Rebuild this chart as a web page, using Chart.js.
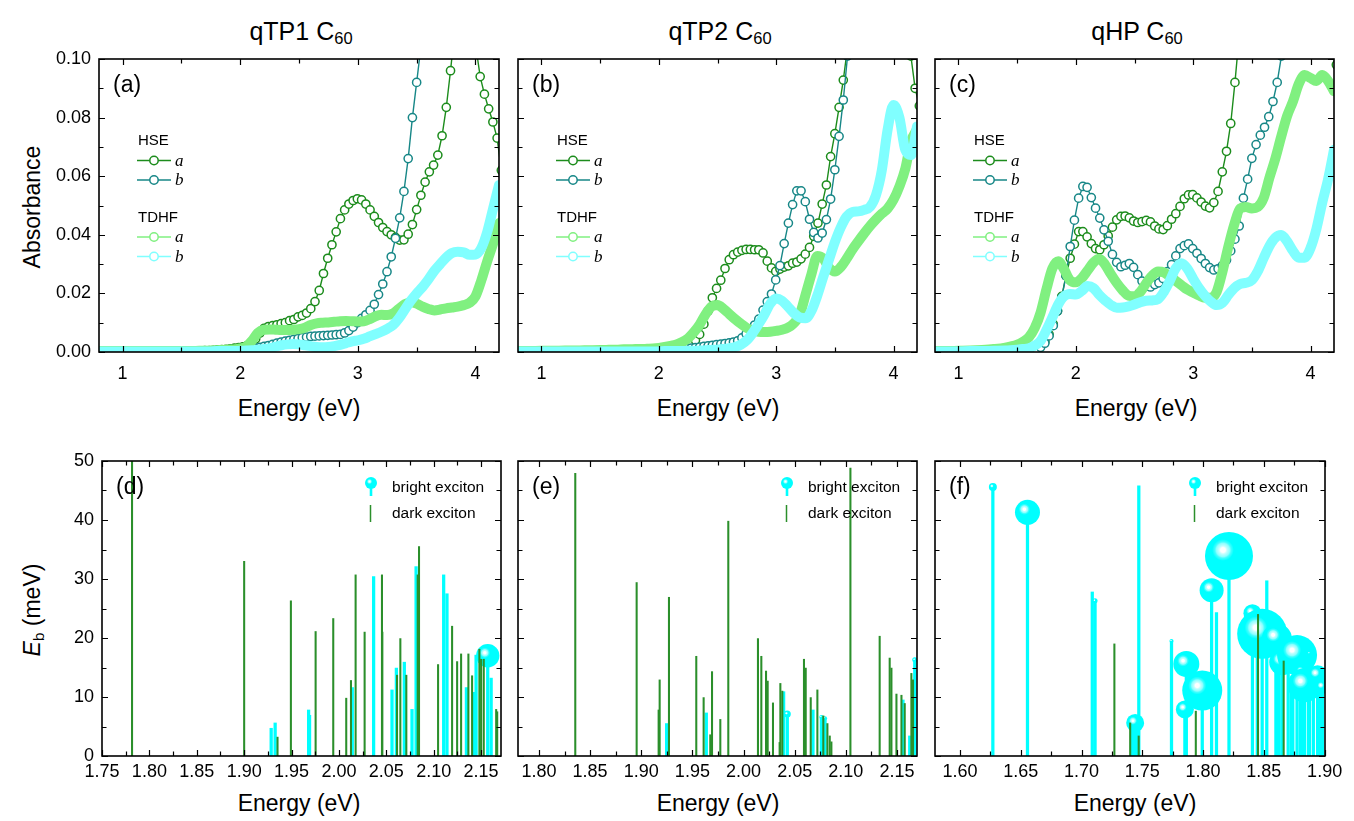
<!DOCTYPE html>
<html>
<head>
<meta charset="utf-8">
<script src="https://cdn.jsdelivr.net/npm/chart.js@4.4.1/dist/chart.umd.min.js"></script>
<style>
  body { margin: 0; background: #fff; width: 1354px; height: 821px; position: relative; overflow: hidden;
         font-family: "Liberation Sans", Arial, Helvetica, sans-serif; }
  canvas { position: absolute; }
  .t { position: absolute; white-space: nowrap; color: #000; transform: translate(-50%, -50%); }
  .rot { transform: translate(-50%, -50%) rotate(-90deg); }
  sub { font-size: 0.66em; vertical-align: -0.28em; line-height: 0; }
</style>
</head>
<body>

<div class="t" style="left:301px;top:31px;font-size:25px">qTP1 C<sub>60</sub></div>
<div class="t" style="left:720px;top:31px;font-size:25px">qTP2 C<sub>60</sub></div>
<div class="t" style="left:1137px;top:31px;font-size:25px">qHP C<sub>60</sub></div>

<div class="t rot" style="left:32px;top:207px;font-size:23px">Absorbance</div>
<div class="t rot" style="left:32px;top:610px;font-size:23px"><i>E</i><sub>b</sub> (meV)</div>

<div class="t" style="left:299px;top:408px;font-size:23px">Energy (eV)</div>
<div class="t" style="left:718px;top:408px;font-size:23px">Energy (eV)</div>
<div class="t" style="left:1136px;top:408px;font-size:23px">Energy (eV)</div>
<div class="t" style="left:299px;top:803px;font-size:23px">Energy (eV)</div>
<div class="t" style="left:718px;top:803px;font-size:23px">Energy (eV)</div>
<div class="t" style="left:1135px;top:803px;font-size:23px">Energy (eV)</div>

<script>
// ---------- energy grids (eV) ----------
const EN_HSE = [
  0.800,0.836,0.872,0.908,0.944,0.980,1.016,1.052,1.088,1.124,
  1.160,1.196,1.232,1.268,1.304,1.340,1.376,1.412,1.448,1.484,
  1.520,1.556,1.592,1.628,1.664,1.700,1.736,1.772,1.808,1.844,
  1.880,1.916,1.952,1.988,2.024,2.060,2.096,2.132,2.168,2.204,
  2.240,2.276,2.312,2.348,2.384,2.420,2.456,2.492,2.528,2.564,
  2.600,2.636,2.672,2.708,2.744,2.780,2.816,2.852,2.888,2.924,
  2.960,2.996,3.032,3.068,3.104,3.140,3.176,3.212,3.248,3.284,
  3.320,3.356,3.392,3.428,3.464,3.500,3.536,3.572,3.608,3.644,
  3.680,3.716,3.752,3.788,3.824,3.860,3.896,3.932,3.968,4.004,
  4.040,4.076,4.112,4.148,4.184,4.220];

const EN_TDHF = [
  0.80,0.90,1.00,1.10,1.20,1.30,1.40,1.50,
  1.55,1.60,1.65,1.70,1.75,1.80,1.85,1.90,
  1.95,2.00,2.05,2.10,2.15,2.20,2.25,2.30,2.35,2.40,
  2.45,2.50,2.55,2.60,2.65,2.70,2.75,2.80,2.85,2.90,
  2.95,3.00,3.05,3.10,3.15,3.20,3.25,3.30,3.35,3.40,
  3.45,3.50,3.55,3.60,3.65,3.70,3.75,3.80,3.85,3.90,
  3.95,4.00,4.05,4.10,4.15,4.20];

// ---------- absorbance, qTP1 C60 ----------
const QTP1_HSE_A = [
  0.0002,0.0002,0.0002,0.0002,0.0002,0.0002,0.0002,0.0002,0.0002,0.0002,
  0.0002,0.0002,0.0002,0.0002,0.0002,0.0002,0.0002,0.0002,0.0002,0.0002,
  0.0002,0.0003,0.0003,0.0004,0.0004,0.0005,0.0005,0.0006,0.0007,0.0008,
  0.0009,0.0011,0.0013,0.0015,0.0018,0.0022,0.0030,0.0045,0.0065,0.0081,
  0.0087,0.0090,0.0093,0.0097,0.0100,0.0107,0.0111,0.0120,0.0125,0.0133,
  0.0148,0.0172,0.0210,0.0268,0.0320,0.0366,0.0410,0.0455,0.0485,0.0505,
  0.0517,0.0523,0.0519,0.0505,0.0485,0.0463,0.0442,0.0425,0.0411,0.0400,
  0.0391,0.0382,0.0383,0.0402,0.0435,0.0486,0.0535,0.0580,0.0615,0.0638,
  0.0672,0.0738,0.0835,0.0960,0.1100,0.1200,0.1250,0.1250,0.1180,0.1040,
  0.0940,0.0880,0.0830,0.0785,0.0730,0.0620];
const QTP1_HSE_B = [
  0.0001,0.0001,0.0001,0.0001,0.0001,0.0001,0.0001,0.0001,0.0001,0.0001,
  0.0001,0.0001,0.0001,0.0001,0.0001,0.0001,0.0001,0.0001,0.0001,0.0001,
  0.0001,0.0001,0.0001,0.0001,0.0001,0.0001,0.0002,0.0002,0.0003,0.0003,
  0.0004,0.0004,0.0005,0.0006,0.0007,0.0009,0.0011,0.0013,0.0016,0.0019,
  0.0022,0.0026,0.0030,0.0034,0.0037,0.0040,0.0043,0.0046,0.0049,0.0051,
  0.0053,0.0054,0.0055,0.0056,0.0057,0.0058,0.0059,0.0060,0.0065,0.0073,
  0.0085,0.0100,0.0115,0.0127,0.0142,0.0163,0.0196,0.0232,0.0274,0.0325,
  0.0388,0.0458,0.0548,0.0660,0.0800,0.0920,0.1040,0.1180,0.1300];
const QTP1_TDHF_A = [
  0.0003,0.0003,0.0003,0.0003,0.0003,0.0003,0.0003,0.0003,
  0.0003,0.0003,0.0004,0.0004,0.0005,0.0006,0.0007,0.0008,
  0.0009,0.0012,0.0018,0.0038,0.0065,0.0076,0.0077,0.0076,0.0075,0.0075,
  0.0076,0.0078,0.0083,0.0092,0.0098,0.0100,0.0101,0.0103,0.0105,0.0106,
  0.0105,0.0104,0.0105,0.0112,0.0122,0.0127,0.0126,0.0132,0.0148,0.0163,
  0.0170,0.0165,0.0155,0.0147,0.0142,0.0145,0.0149,0.0152,0.0155,0.0160,
  0.0168,0.0190,0.0245,0.0310,0.0370,0.0440];
const QTP1_TDHF_B = [
  0.0002,0.0002,0.0002,0.0002,0.0002,0.0002,0.0002,0.0002,
  0.0002,0.0002,0.0002,0.0002,0.0002,0.0003,0.0003,0.0003,
  0.0003,0.0004,0.0005,0.0006,0.0008,0.0010,0.0013,0.0018,0.0023,0.0026,
  0.0027,0.0026,0.0023,0.0020,0.0017,0.0016,0.0017,0.0020,0.0024,0.0030,
  0.0036,0.0040,0.0045,0.0053,0.0061,0.0069,0.0079,0.0092,0.0115,0.0145,
  0.0175,0.0200,0.0222,0.0248,0.0277,0.0300,0.0322,0.0338,0.0342,0.0340,
  0.0332,0.0333,0.0355,0.0410,0.0490,0.0570];

// ---------- absorbance, qTP2 C60 ----------
const QTP2_HSE_A = [
  0.0002,0.0002,0.0002,0.0002,0.0002,0.0002,0.0002,0.0002,0.0002,0.0002,
  0.0002,0.0002,0.0002,0.0002,0.0003,0.0003,0.0003,0.0003,0.0003,0.0004,
  0.0004,0.0004,0.0004,0.0005,0.0005,0.0005,0.0006,0.0006,0.0006,0.0007,
  0.0007,0.0008,0.0009,0.0010,0.0012,0.0014,0.0016,0.0018,0.0020,0.0023,
  0.0027,0.0032,0.0040,0.0060,0.0095,0.0140,0.0185,0.0217,0.0245,0.0285,
  0.0315,0.0332,0.0341,0.0347,0.0350,0.0350,0.0349,0.0349,0.0338,0.0310,
  0.0287,0.0275,0.0283,0.0290,0.0294,0.0303,0.0307,0.0318,0.0334,0.0357,
  0.0395,0.0440,0.0505,0.0570,0.0667,0.0745,0.0835,0.0928,0.1040,0.1150,
  0.1250,0.1350,0.1400,0.1450,0.1500,0.1500,0.1450,0.1400,0.1300,0.1200,
  0.1120,0.1080,0.1060,0.1010,0.0900,0.0840];
const QTP2_HSE_B = [
  0.0001,0.0001,0.0001,0.0001,0.0001,0.0001,0.0001,0.0001,0.0001,0.0001,
  0.0001,0.0001,0.0001,0.0001,0.0001,0.0001,0.0001,0.0001,0.0002,0.0002,
  0.0002,0.0002,0.0003,0.0003,0.0003,0.0004,0.0004,0.0004,0.0005,0.0005,
  0.0006,0.0006,0.0007,0.0007,0.0008,0.0008,0.0009,0.0010,0.0010,0.0011,
  0.0012,0.0013,0.0015,0.0017,0.0019,0.0021,0.0023,0.0025,0.0027,0.0029,
  0.0031,0.0034,0.0038,0.0048,0.0062,0.0078,0.0092,0.0112,0.0143,0.0172,
  0.0198,0.0246,0.0295,0.0370,0.0440,0.0503,0.0550,0.0550,0.0513,0.0453,
  0.0408,0.0389,0.0406,0.0452,0.0522,0.0622,0.0736,0.0860,0.1010,0.1150,
  0.1300];
const QTP2_TDHF_A = [
  0.0003,0.0003,0.0004,0.0004,0.0005,0.0005,0.0006,0.0007,
  0.0007,0.0008,0.0008,0.0009,0.0009,0.0010,0.0010,0.0011,
  0.0012,0.0014,0.0017,0.0021,0.0026,0.0034,0.0047,0.0068,0.0095,0.0130,
  0.0155,0.0160,0.0148,0.0130,0.0112,0.0096,0.0082,0.0073,0.0069,0.0068,
  0.0069,0.0072,0.0076,0.0083,0.0098,0.0126,0.0195,0.0265,0.0328,0.0320,
  0.0288,0.0275,0.0290,0.0318,0.0350,0.0378,0.0405,0.0430,0.0452,0.0472,
  0.0490,0.0520,0.0565,0.0625,0.0720,0.0760];
const QTP2_TDHF_B = [
  0.0002,0.0002,0.0002,0.0002,0.0002,0.0002,0.0002,0.0002,
  0.0002,0.0002,0.0002,0.0002,0.0002,0.0002,0.0002,0.0002,
  0.0002,0.0002,0.0003,0.0003,0.0003,0.0003,0.0004,0.0004,0.0005,0.0006,
  0.0007,0.0008,0.0010,0.0013,0.0017,0.0025,0.0040,0.0065,0.0095,0.0128,
  0.0165,0.0183,0.0175,0.0155,0.0133,0.0118,0.0115,0.0140,0.0192,0.0255,
  0.0315,0.0375,0.0425,0.0462,0.0478,0.0480,0.0485,0.0495,0.0535,0.0620,
  0.0760,0.0843,0.0800,0.0690,0.0672,0.0770];

// ---------- absorbance, qHP C60 ----------
const QHP_HSE_A = [
  0.0002,0.0002,0.0002,0.0002,0.0002,0.0002,0.0002,0.0002,0.0002,0.0002,
  0.0002,0.0002,0.0002,0.0002,0.0002,0.0002,0.0002,0.0002,0.0002,0.0002,
  0.0003,0.0004,0.0005,0.0008,0.0012,0.0020,0.0035,0.0060,0.0095,0.0140,
  0.0190,0.0260,0.0320,0.0368,0.0411,0.0411,0.0393,0.0370,0.0353,0.0349,
  0.0366,0.0396,0.0426,0.0451,0.0463,0.0464,0.0458,0.0447,0.0442,0.0445,
  0.0449,0.0444,0.0430,0.0420,0.0418,0.0431,0.0453,0.0472,0.0497,0.0523,
  0.0536,0.0537,0.0526,0.0512,0.0498,0.0492,0.0510,0.0548,0.0615,0.0685,
  0.0780,0.0920,0.1080,0.1200,0.1300,0.1400,0.1500,0.1600,0.1700,0.1800,
  0.1800,0.1800,0.1700,0.1700,0.1600,0.1500,0.1400,0.1350,0.1300,0.1250,
  0.1200,0.1150,0.1100,0.1060,0.1015,0.0980];
const QHP_HSE_B = [
  0.0002,0.0002,0.0002,0.0002,0.0002,0.0002,0.0002,0.0002,0.0002,0.0002,
  0.0002,0.0002,0.0002,0.0002,0.0002,0.0002,0.0002,0.0002,0.0002,0.0002,
  0.0002,0.0003,0.0004,0.0005,0.0009,0.0016,0.0030,0.0055,0.0090,0.0140,
  0.0185,0.0260,0.0360,0.0450,0.0525,0.0565,0.0562,0.0527,0.0491,0.0457,
  0.0417,0.0378,0.0333,0.0306,0.0291,0.0296,0.0302,0.0289,0.0264,0.0242,
  0.0224,0.0222,0.0230,0.0236,0.0251,0.0274,0.0298,0.0328,0.0353,0.0363,
  0.0369,0.0353,0.0337,0.0319,0.0302,0.0288,0.0280,0.0284,0.0295,0.0314,
  0.0345,0.0385,0.0430,0.0525,0.0590,0.0661,0.0708,0.0740,0.0767,0.0803,
  0.0855,0.0920,0.1010,0.1100];
const QHP_TDHF_A = [
  0.0003,0.0003,0.0004,0.0005,0.0007,0.0010,0.0015,0.0025,
  0.0035,0.0050,0.0082,0.0135,0.0215,0.0285,0.0310,0.0282,
  0.0245,0.0238,0.0252,0.0278,0.0305,0.0318,0.0298,0.0265,0.0235,0.0210,
  0.0192,0.0190,0.0205,0.0235,0.0260,0.0275,0.0272,0.0258,0.0243,0.0228,
  0.0213,0.0203,0.0193,0.0185,0.0185,0.0205,0.0275,0.0360,0.0435,0.0490,
  0.0495,0.0490,0.0495,0.0525,0.0595,0.0660,0.0735,0.0805,0.0855,0.0915,
  0.0945,0.0935,0.0925,0.0945,0.0925,0.0890];
const QHP_TDHF_B = [
  0.0002,0.0002,0.0002,0.0003,0.0003,0.0004,0.0005,0.0008,
  0.0010,0.0013,0.0022,0.0038,0.0075,0.0118,0.0162,0.0190,
  0.0198,0.0196,0.0208,0.0225,0.0218,0.0195,0.0176,0.0160,0.0151,0.0152,
  0.0156,0.0162,0.0170,0.0175,0.0176,0.0180,0.0205,0.0242,0.0285,0.0303,
  0.0285,0.0250,0.0218,0.0192,0.0172,0.0160,0.0168,0.0195,0.0218,0.0232,
  0.0236,0.0245,0.0275,0.0320,0.0362,0.0390,0.0399,0.0378,0.0345,0.0322,
  0.0322,0.0355,0.0420,0.0510,0.0590,0.0690];

// ---------- exciton binding energies ----------
const QTP1_DARK_E  = [1.7817,1.9000,1.9352,1.9493,1.9754,1.9940,2.0077,2.0127,2.0176,2.0271,2.0454,2.0458,2.0613,2.0648,
                      2.0711,2.0831,2.0845,2.1046,2.1194,2.1247,2.1289,2.1366,2.1405,2.1482,2.1500,2.1528,2.1659,2.1670];
const QTP1_DARK_EB = [55,33.0,3.2,26.3,21.1,23.3,9.8,12.8,30.7,21.0,30.7,21.0,13.7,19.9,
                      13.7,30.7,35.5,15.5,22.0,16.0,17.3,17.3,13.6,18.1,16.4,16.4,7.9,7.5];
const QTP1_BRIGHT_E  = [1.9285,1.9327,1.9680,1.9690,2.0141,2.0366,2.0560,2.0606,2.0690,2.0771,2.0814,2.1105,2.1140,2.1345,2.1430,2.1447,2.1570,2.1606];
const QTP1_BRIGHT_EB = [4.7,5.6,7.8,6.9,11.6,30.4,11.2,14.9,15.9,7.9,32.1,30.7,27.5,11.6,10.8,17.1,17.0,13.2];
const QTP1_BRIGHT_R  = [0,0,0,0,0,0,0,0,0,0,0,0,0,0,0,0,11.7,0];

const QTP2_DARK_E  = [1.8355,1.8955,1.9170,1.9180,1.9271,1.9538,1.9610,1.9675,1.9692,1.9773,1.9851,2.0141,2.0174,2.0220,
                      2.0236,2.0288,2.0353,2.0360,2.0379,2.0591,2.0608,2.0657,2.0722,2.0780,2.0820,2.0843,2.0859,2.1045,
                      2.1331,2.1429,2.1446,2.1495,2.1544,2.1576,2.1641,2.1657];
const QTP2_DARK_EB = [47.9,29.4,7.8,12.9,26.9,16.9,9.9,3.6,14.3,6.2,39.8,19.9,16.9,14.4,
                      12.7,9.0,2.3,12.3,11.0,16.4,14.9,9.9,11.2,6.8,5.5,3.4,2.4,48.8,
                      20.3,16.6,14.9,10.5,10.3,8.9,14.0,12.9];
const QTP2_BRIGHT_E  = [1.9248,1.9636,2.0392,2.0428,2.0679,2.0761,2.0797,2.1559,2.1625,2.1674];
const QTP2_BRIGHT_EB = [5.5,7.3,10.9,7.1,7.8,6.6,6.4,9.5,3.4,16.3];
const QTP2_BRIGHT_R  = [0,0,0,3.5,0,2,2,0,0,2.5];

const QHP_DARK_E  = [1.7270,1.7400,1.7470,1.7940,1.8452,1.8663];
const QHP_DARK_EB = [19.0,5.6,3.4,7.6,24.0,16.1];
const QHP_BRIGHT_E  = [1.6270,1.6555,1.7088,1.7111,1.7420,1.7441,1.7455,1.7471,1.7740,1.7850,1.7862,1.7993,
                       1.8070,1.8110,1.8213,1.8406,1.8446,1.8486,1.8524,1.8599,1.8607,1.8626,1.8651,1.8700,
                       1.8727,1.8738,1.8773,1.8800,1.8813,1.8835,1.8867,1.8875,1.8907,1.8942,1.8963,1.8982];
const QHP_BRIGHT_EB = [45.6,41.3,27.8,26.3,5.0,5.6,5.0,45.8,19.5,7.9,15.6,11.1,
                       28.1,24.3,33.9,24.2,20.7,20.7,29.7,19.9,19.9,15.9,15.9,17.1,
                       12.2,12.2,17.1,12.0,14.3,12.0,12.0,17.4,13.7,13.7,11.7,11.7];
const QHP_BRIGHT_R  = [4,12.5,0,2.5,0,9,0,0,2,9,13,20,
                       12,0,24,9,0,25,0,0,15,0,13,0,
                       3,0,20,0,7,17,0,2,0,10,0,7];

// ---------- ticks ----------
const ABS_X_TICKS = [1, 2, 3, 4];
const ABS_X_MINOR = [1.5, 2.5, 3.5];
const ABS_Y_TICKS = [0, 0.02, 0.04, 0.06, 0.08, 0.10];
const ABS_Y_MINOR = [0.01, 0.03, 0.05, 0.07, 0.09];
const EB_Y_TICKS = [0, 10, 20, 30, 40, 50];
const EB_Y_MINOR = [5, 15, 25, 35, 45];
const D_X_TICKS = [1.75, 1.80, 1.85, 1.90, 1.95, 2.00, 2.05, 2.10, 2.15];
const D_X_MINOR = [1.775, 1.825, 1.875, 1.925, 1.975, 2.025, 2.075, 2.125];
const E_X_TICKS = [1.80, 1.85, 1.90, 1.95, 2.00, 2.05, 2.10, 2.15];
const E_X_MINOR = [1.825, 1.875, 1.925, 1.975, 2.025, 2.075, 2.125];
const F_X_TICKS = [1.60, 1.65, 1.70, 1.75, 1.80, 1.85, 1.90];
const F_X_MINOR = [1.625, 1.675, 1.725, 1.775, 1.825, 1.875];

// ---------- styles ----------
const FONT = '"Liberation Sans", Arial, Helvetica, sans-serif';
const HSE_A = '#1c8c1c', HSE_B = '#178787', TDHF_A = '#80f080', TDHF_B = '#80ffff';
const DARK = '#2b8f2b', BRIGHT = '#00ffff';
const PAD_L = 80, PAD_R = 16, PAD_T = 30, PAD_B = 44;

function drawBall(ctx, x, y, r) {
  const hx = x - 0.25 * r, hy = y - 0.25 * r;
  const g = ctx.createRadialGradient(hx, hy, 0, hx, hy, r * 0.45);
  g.addColorStop(0, '#ffffff');
  g.addColorStop(0.22, '#ffffff');
  g.addColorStop(0.38, '#c4ffff');
  g.addColorStop(0.62, '#8effff');
  g.addColorStop(0.75, '#44ffff');
  g.addColorStop(1, '#00ffff');
  ctx.fillStyle = g;
  ctx.beginPath();
  ctx.arc(x, y, r, 0, Math.PI * 2);
  ctx.fill();
}

function absLegend(ctx, a) {
  const L = a.left, T = a.top;
  ctx.textBaseline = 'middle';
  ctx.textAlign = 'left';
  ctx.fillStyle = '#000';
  ctx.font = '15px ' + FONT;
  ctx.fillText('HSE', L + 39, T + 82);
  ctx.fillText('TDHF', L + 39, T + 159);
  const item = (y, col, lab) => {
    ctx.strokeStyle = col;
    ctx.lineWidth = 1.5;
    ctx.beginPath(); ctx.moveTo(L + 38, y); ctx.lineTo(L + 72, y); ctx.stroke();
    ctx.fillStyle = '#fff';
    ctx.beginPath(); ctx.arc(L + 55, y, 4.2, 0, Math.PI * 2); ctx.fill(); ctx.stroke();
    ctx.fillStyle = '#000';
    ctx.font = 'italic 17px "Liberation Serif", "Times New Roman", serif';
    ctx.fillText(lab, L + 76, y + 1);
  };
  item(T + 101.5, HSE_A, 'a');
  item(T + 121, HSE_B, 'b');
  item(T + 178, TDHF_A, 'a');
  item(T + 197.5, TDHF_B, 'b');
}

function excLegend(ctx, a) {
  const R = a.right, T = a.top;
  ctx.strokeStyle = BRIGHT; ctx.lineWidth = 2.6;
  ctx.beginPath(); ctx.moveTo(R - 130, T + 22); ctx.lineTo(R - 130, T + 35); ctx.stroke();
  drawBall(ctx, R - 130, T + 22, 6);
  ctx.strokeStyle = DARK; ctx.lineWidth = 1.5;
  ctx.beginPath(); ctx.moveTo(R - 130.5, T + 44); ctx.lineTo(R - 130.5, T + 61); ctx.stroke();
  ctx.fillStyle = '#000';
  ctx.font = '15.5px ' + FONT;
  ctx.textBaseline = 'middle';
  ctx.textAlign = 'left';
  ctx.fillText('bright exciton', R - 109, T + 27);
  ctx.fillText('dark exciton', R - 109, T + 52.5);
}

// frame, inward ticks on all sides, panel letter, legend
function framePlugin(cfg) {
  return {
    id: 'frame',
    afterDatasetDraw(chart, args) {
      const ds = chart.data.datasets[args.index];
      if (!ds.balls) return;
      const { ctx, chartArea: a } = chart;
      ctx.save();
      ctx.beginPath(); ctx.rect(a.left, a.top, a.right - a.left, a.bottom - a.top); ctx.clip();
      args.meta.data.forEach((el, i) => {
        const r = ds.data[i].r;
        if (r > 0) drawBall(ctx, el.x, el.y, r);
      });
      ctx.restore();
    },
    afterDraw(chart) {
      const { ctx, chartArea: a, scales: { x, y } } = chart;
      ctx.save();
      ctx.strokeStyle = '#000';
      ctx.lineWidth = 1.2;
      ctx.beginPath();
      const tx = (vals, len) => vals.forEach(v => {
        const p = Math.round(x.getPixelForValue(v)) + 0.5;
        ctx.moveTo(p, a.bottom); ctx.lineTo(p, a.bottom - len);
        ctx.moveTo(p, a.top); ctx.lineTo(p, a.top + len);
      });
      const ty = (vals, len) => vals.forEach(v => {
        const p = Math.round(y.getPixelForValue(v)) + 0.5;
        ctx.moveTo(a.left, p); ctx.lineTo(a.left + len, p);
        ctx.moveTo(a.right, p); ctx.lineTo(a.right - len, p);
      });
      tx(cfg.xMajor, 6); tx(cfg.xMinor, 4.5);
      ty(cfg.yMajor, 6); ty(cfg.yMinor, 4.5);
      ctx.stroke();
      ctx.lineWidth = 1.6;
      ctx.strokeRect(a.left, a.top, a.right - a.left, a.bottom - a.top);

      ctx.fillStyle = '#000';
      ctx.font = '23px ' + FONT;
      ctx.textBaseline = 'alphabetic';
      ctx.textAlign = 'left';
      ctx.fillText('(' + cfg.letter + ')', a.left + 14, a.top + 33);
      if (cfg.legend === 'abs') absLegend(ctx, a);
      else excLegend(ctx, a);
      ctx.restore();
    }
  };
}

function makeCanvas(rect) {
  const [L, T, R, B] = rect;
  const c = document.createElement('canvas');
  c.width = R - L + PAD_L + PAD_R;
  c.height = B - T + PAD_T + PAD_B;
  c.style.left = (L - PAD_L) + 'px';
  c.style.top = (T - PAD_T) + 'px';
  c.style.width = c.width + 'px';
  c.style.height = c.height + 'px';
  document.body.appendChild(c);
  return c;
}

function axis(min, max, ticks, fmt, show, pad, isY) {
  return {
    type: 'linear', min: min, max: max, offset: false,
    grid: { display: false, drawTicks: false },
    border: { display: false },
    afterBuildTicks: s => { s.ticks = ticks.map(v => ({ value: v })); },
    afterFit: s => { if (isY) s.width = PAD_L; else s.height = PAD_B; },
    ticks: {
      display: show, padding: pad, autoSkip: false, maxRotation: 0, minRotation: 0,
      color: '#000', font: { family: FONT, size: 18 },
      callback: v => fmt(v)
    }
  };
}

const baseOptions = () => ({
  responsive: false, animation: false, devicePixelRatio: 1, events: [],
  layout: { padding: { left: 0, right: PAD_R, top: PAD_T, bottom: 0 } },
  plugins: { legend: { display: false }, tooltip: { enabled: false } }
});

function hse(vals, col) {
  return {
    data: vals.map((v, i) => ({ x: EN_HSE[i], y: v })),
    borderColor: col, borderWidth: 1.4, tension: 0, fill: false, clip: 0,
    pointRadius: 4.1, pointBorderWidth: 1.5, pointBorderColor: col, pointBackgroundColor: '#fff'
  };
}

function tdhf(vals, col) {
  return {
    data: vals.map((v, i) => ({ x: EN_TDHF[i], y: v })),
    borderColor: col, borderWidth: 10, fill: false, clip: 0, pointRadius: 0,
    cubicInterpolationMode: 'monotone', borderCapStyle: 'round', borderJoinStyle: 'round'
  };
}

function absPanel(rect, letter, hA, hB, tA, tB, showY) {
  const opts = baseOptions();
  opts.scales = {
    x: axis(0.8, 4.2, ABS_X_TICKS, v => String(v), true, 11, false),
    y: axis(0, 0.1, ABS_Y_TICKS, v => v.toFixed(2), showY, 8, true)
  };
  new Chart(makeCanvas(rect), {
    type: 'line',
    // first dataset is drawn on top
    data: { datasets: [tdhf(tB, TDHF_B), tdhf(tA, TDHF_A), hse(hB, HSE_B), hse(hA, HSE_A)] },
    options: opts,
    plugins: [framePlugin({ letter: letter, legend: 'abs',
      xMajor: ABS_X_TICKS, xMinor: ABS_X_MINOR, yMajor: ABS_Y_TICKS, yMinor: ABS_Y_MINOR })]
  });
}

function excPanel(rect, letter, xmin, xmax, xt, xm, dE, dEb, bE, bEb, bR, showY) {
  const opts = baseOptions();
  opts.scales = {
    x: axis(xmin, xmax, xt, v => v.toFixed(2), true, 5, false),
    y: axis(0, 50, EB_Y_TICKS, v => String(v), showY, 8, true)
  };
  new Chart(makeCanvas(rect), {
    type: 'bar',
    data: { datasets: [
      { type: 'bar', data: dE.map((e, i) => ({ x: e, y: dEb[i] })),
        backgroundColor: DARK, barThickness: 1.4, grouped: false, clip: 0 },
      { type: 'bubble', balls: true, data: bE.map((e, i) => ({ x: e, y: bEb[i], r: bR[i] })),
        backgroundColor: 'rgba(0,0,0,0)', borderWidth: 0, clip: 0 },
      { type: 'bar', data: bE.map((e, i) => ({ x: e, y: bEb[i] })),
        backgroundColor: BRIGHT, barThickness: 2.6, grouped: false, clip: 0 }
    ] },
    options: opts,
    plugins: [framePlugin({ letter: letter, legend: 'exc',
      xMajor: xt, xMinor: xm, yMajor: EB_Y_TICKS, yMinor: EB_Y_MINOR })]
  });
}

absPanel([99, 59, 499, 352], 'a', QTP1_HSE_A, QTP1_HSE_B, QTP1_TDHF_A, QTP1_TDHF_B, true);
absPanel([518, 59, 917, 352], 'b', QTP2_HSE_A, QTP2_HSE_B, QTP2_TDHF_A, QTP2_TDHF_B, false);
absPanel([935, 59, 1334, 352], 'c', QHP_HSE_A, QHP_HSE_B, QHP_TDHF_A, QHP_TDHF_B, false);

excPanel([102, 461, 501, 756], 'd', 1.75, 2.171, D_X_TICKS, D_X_MINOR,
         QTP1_DARK_E, QTP1_DARK_EB, QTP1_BRIGHT_E, QTP1_BRIGHT_EB, QTP1_BRIGHT_R, true);
excPanel([518, 461, 917, 756], 'e', 1.7795, 2.1696, E_X_TICKS, E_X_MINOR,
         QTP2_DARK_E, QTP2_DARK_EB, QTP2_BRIGHT_E, QTP2_BRIGHT_EB, QTP2_BRIGHT_R, false);
excPanel([935, 461, 1334, 756], 'f', 1.5794, 1.9003, F_X_TICKS, F_X_MINOR,
         QHP_DARK_E, QHP_DARK_EB, QHP_BRIGHT_E, QHP_BRIGHT_EB, QHP_BRIGHT_R, false);
</script>
</body>
</html>
